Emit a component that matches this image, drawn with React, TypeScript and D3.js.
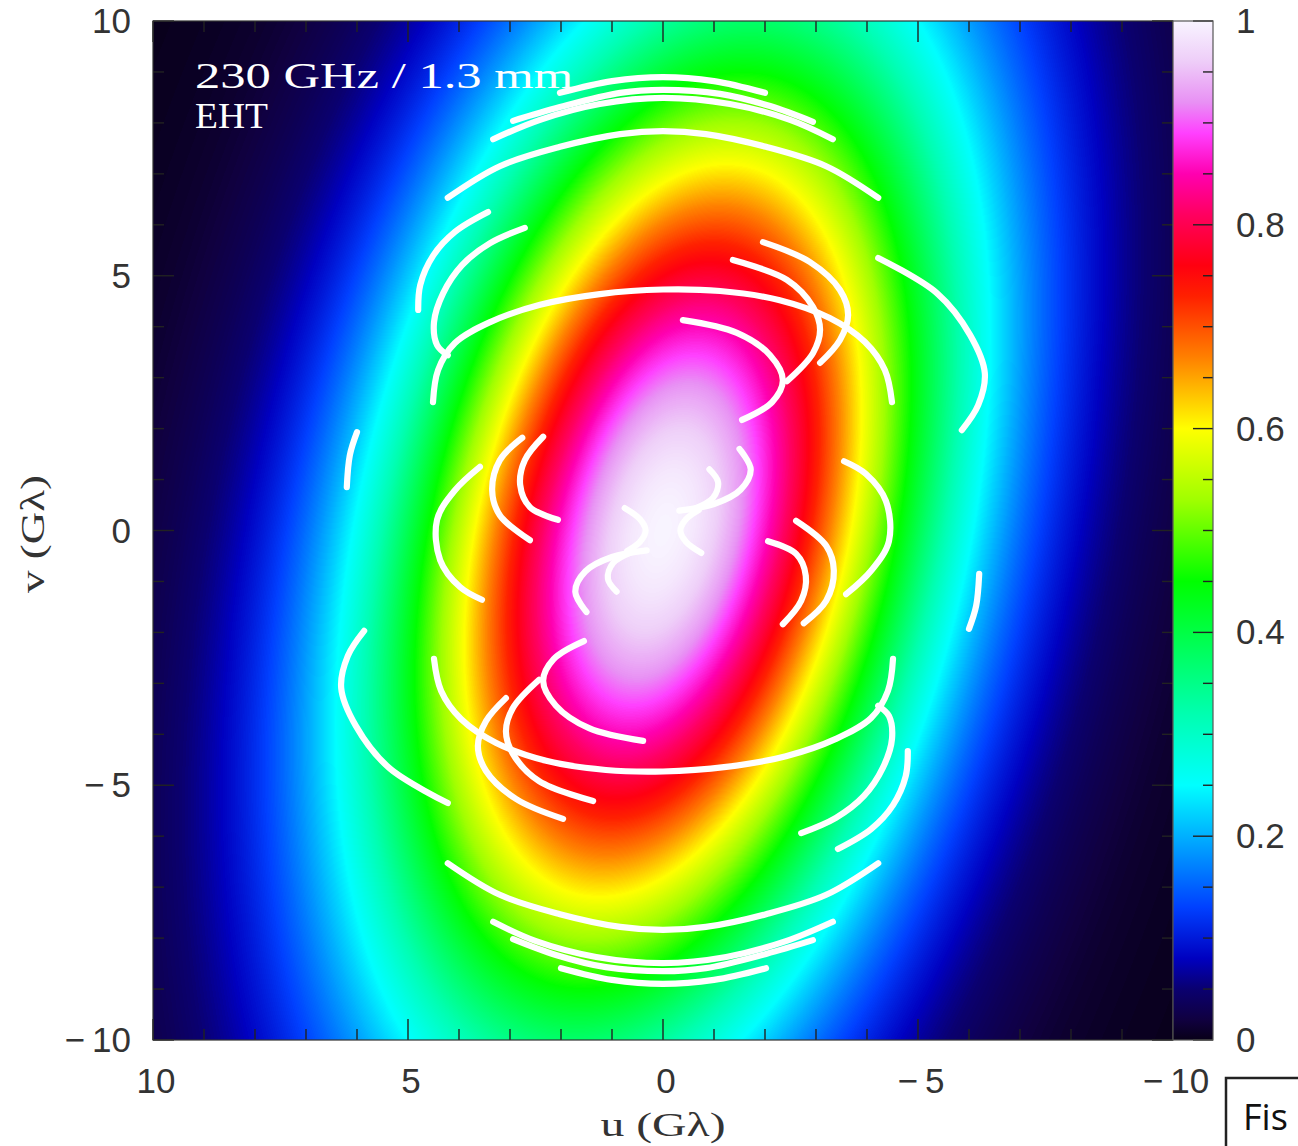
import React, { useMemo } from 'react';
import * as d3 from 'd3';

// page + frame geometry
const W = 1298, H = 1146;
const plot = { left: 153, right: 1173, top: 21, bottom: 1040 };
const bar = { left: 1173, right: 1213 };

// axis labels
const uLabels = [10, 5, 0, -5, -10];
const vLabels = [10, 5, 0, -5, -10];
const barLabels = [0, 0.2, 0.4, 0.6, 0.8, 1];

// colour table of the wedge (value -> colour)
const barValues = [0, 0.02, 0.05, 0.08, 0.13, 0.19, 0.25, 0.32, 0.38, 0.45, 0.53, 0.6, 0.67, 0.73, 0.76, 0.81, 0.85, 0.89, 0.92, 0.96, 1];
const barColors = ['#080018', '#100040', '#0a0070', '#0000c0', '#0040ff', '#00a0ff', '#00ffff', '#00ffb0', '#00ff60', '#00ff00', '#a0ff00', '#ffff00', '#ff8000', '#ff2000', '#ff0010', '#ff0060', '#ff00b0', '#ff40ff', '#e890f4', '#eecdf8', '#f8f4ff'];

// visibility amplitude model: exp(-(a u^2 + 2 b u v + c v^2) / 2)
const gaussUU = 0.075;
const gaussUV = 0.013;
const gaussVV = 0.022;

// uv tracks (u, v in G-lambda), each one is drawn with its conjugate (-u, -v)
const trackA1 = [[2.02, 8.59], [1.0, 8.82], [0, 8.9], [-1.0, 8.82], [-2.0, 8.59]];
const trackA2 = [[2.94, 8.04], [2.02, 8.31], [0.84, 8.59], [0, 8.65], [-1.12, 8.57], [-2.1, 8.33], [-2.94, 8.02]];
const trackA3 = [[3.33, 7.68], [2.41, 8.06], [1.24, 8.37], [0, 8.49], [-1.31, 8.37], [-2.49, 8.06], [-3.33, 7.68]];
const trackA4 = [[4.22, 6.53], [3.2, 7.15], [2.02, 7.53], [0.84, 7.78], [0, 7.84], [-0.84, 7.78], [-2.02, 7.53], [-3.2, 7.15], [-4.22, 6.53]];
const trackB1 = [[3.43, 6.25], [4.08, 5.86], [4.51, 5.39], [4.76, 4.82], [4.8, 4.33]];
const trackB2 = [[2.71, 5.94], [3.39, 5.64], [3.94, 5.21], [4.31, 4.66], [4.49, 4.09], [4.43, 3.64], [4.22, 3.44]];
const trackB3 = [[4.51, 2.52], [4.41, 3.15], [4.08, 3.68], [3.39, 4.09], [2.41, 4.43], [1.24, 4.64], [0, 4.73], [-1.12, 4.7], [-2.29, 4.52], [-3.27, 4.17], [-3.96, 3.7], [-4.35, 3.15], [-4.49, 2.52]];
const trackB4a = [[-0.39, 4.13], [-1.45, 3.88], [-2.1, 3.44], [-2.35, 2.95], [-2.14, 2.52], [-1.55, 2.17]];
const trackB4b = [[-1.37, 5.31], [-2.43, 4.92], [-2.94, 4.39], [-3.08, 3.94], [-2.94, 3.48], [-2.43, 2.93]];
const trackB4c = [[-1.96, 5.66], [-2.88, 5.27], [-3.47, 4.72], [-3.63, 4.23], [-3.47, 3.74], [-3.08, 3.29]];
const trackB5 = [[-4.22, 5.35], [-5.37, 4.66], [-6.02, 3.84], [-6.31, 3.09], [-6.18, 2.46], [-5.86, 1.97]];
const trackC1 = [[6.0, 1.93], [6.14, 1.48], [6.2, 0.85]];
const trackC2a = [[2.35, 1.84], [2.71, 1.38], [2.8, 0.89], [2.61, 0.46], [2.06, 0.21]];
const trackC2b = [[2.76, 1.82], [3.2, 1.38], [3.35, 0.79], [3.2, 0.3], [2.61, -0.19]];
const trackC2c = [[3.59, 1.25], [4.08, 0.79], [4.43, 0.21], [4.37, -0.58], [3.98, -1.11], [3.55, -1.36]];
const trackD1 = [[-0.32, 0.39], [-1.0, 0.52], [-1.52, 0.8], [-1.72, 1.2], [-1.5, 1.6]];
const trackD2 = [[-0.6, 0.42], [-0.98, 0.64], [-1.08, 0.95], [-0.91, 1.2]];
const trackE1 = [[0.75, 0.44], [0.45, 0.22], [0.34, 0.0], [0.45, -0.22], [0.7, -0.4]];

const tracks = [trackA1, trackA2, trackA3, trackA4, trackB1, trackB2, trackB3, trackB4a, trackB4b, trackB4c, trackB5, trackC1, trackC2a, trackC2b, trackC2c, trackD1, trackD2, trackE1];

const x = d3.scaleLinear().domain([10, -10]).range([plot.left, plot.right]);
const y = d3.scaleLinear().domain([-10, 10]).range([plot.bottom, plot.top]);
const yBar = d3.scaleLinear().domain([0, 1]).range([plot.bottom, plot.top]);
const color = d3.scaleLinear<string>().domain(barValues).range(barColors).interpolate(d3.interpolateRgb).clamp(true);

const fmt = (d: number) => (d < 0 ? '\u2212\u2009' + Math.abs(d) : String(d));

export default function App() {
  const heatmap = useMemo(() => {
    const w = plot.right - plot.left, h = plot.bottom - plot.top;
    const canvas = document.createElement('canvas');
    canvas.width = w;
    canvas.height = h;
    const ctx = canvas.getContext('2d')!;
    const img = ctx.createImageData(w, h);
    const lut = d3.range(512).map(i => d3.rgb(color(i / 511)));
    for (let py = 0; py < h; py++) {
      const v = y.invert(plot.top + py + 0.5);
      for (let px = 0; px < w; px++) {
        const u = x.invert(plot.left + px + 0.5);
        const q = gaussUU * u * u + 2 * gaussUV * u * v + gaussVV * v * v;
        const c = lut[Math.round(Math.exp(-q / 2) * 511)];
        const k = (py * w + px) * 4;
        img.data[k] = c.r;
        img.data[k + 1] = c.g;
        img.data[k + 2] = c.b;
        img.data[k + 3] = 255;
      }
    }
    ctx.putImageData(img, 0, 0);
    return canvas.toDataURL();
  }, []);

  const line = d3.line<number[]>()
    .x(d => x(d[0]))
    .y(d => y(d[1]))
    .curve(d3.curveCatmullRom.alpha(0.5));

  const tickCol = '#222';

  return (
    <div style={{ position: 'absolute', left: 0, top: 0 }}>
      <svg width={W} height={H} style={{ display: 'block', background: '#fff' }}>
        <defs>
          <linearGradient id="wedge" x1="0" y1="1" x2="0" y2="0">
            {barValues.map((v, i) => (
              <stop key={i} offset={v} stopColor={barColors[i]} />
            ))}
          </linearGradient>
        </defs>

        <image href={heatmap} x={plot.left} y={plot.top}
          width={plot.right - plot.left} height={plot.bottom - plot.top} preserveAspectRatio="none" />

        {tracks.map((t, i) => (
          <g key={i} fill="none" stroke="#fff" strokeWidth={6.2} strokeLinecap="round">
            <path d={line(t) || ''} />
            <path d={line(t.map(([u, v]) => [-u, -v])) || ''} />
          </g>
        ))}

        <text x={195} y={88} fill="#fff" fontFamily="'Liberation Serif', serif" fontSize={36}
          textLength={378} lengthAdjust="spacingAndGlyphs">230 GHz / 1.3 mm</text>
        <text x={195} y={128} fill="#fff" fontFamily="'Liberation Serif', serif" fontSize={36}
          textLength={73} lengthAdjust="spacingAndGlyphs">EHT</text>

        {/* frame ticks */}
        <g stroke={tickCol} strokeWidth={1.4}>
          {x.ticks(20).map(d => {
            const len = d % 5 === 0 ? 21 : 11;
            return (
              <g key={'u' + d}>
                <line x1={x(d)} x2={x(d)} y1={plot.bottom} y2={plot.bottom - len} />
                <line x1={x(d)} x2={x(d)} y1={plot.top} y2={plot.top + len} />
              </g>
            );
          })}
          {y.ticks(20).map(d => {
            const len = d % 5 === 0 ? 21 : 11;
            return (
              <g key={'v' + d}>
                <line x1={plot.left} x2={plot.left + len} y1={y(d)} y2={y(d)} />
                <line x1={plot.right} x2={plot.right - len} y1={y(d)} y2={y(d)} />
              </g>
            );
          })}
        </g>
        <rect x={plot.left} y={plot.top} width={plot.right - plot.left} height={plot.bottom - plot.top}
          fill="none" stroke="#333" strokeWidth={1.2} />

        {/* colour wedge */}
        <rect x={bar.left} y={plot.top} width={bar.right - bar.left} height={plot.bottom - plot.top} fill="url(#wedge)" />
        <g stroke={tickCol} strokeWidth={1.4}>
          {yBar.ticks(20).map(d => {
            const major = Math.abs(d * 5 - Math.round(d * 5)) < 1e-6;
            const len = major ? 20 : 10;
            return <line key={'b' + d} x1={bar.right} x2={bar.right - len} y1={yBar(d)} y2={yBar(d)} />;
          })}
        </g>
        <rect x={bar.left} y={plot.top} width={bar.right - bar.left} height={plot.bottom - plot.top}
          fill="none" stroke="#555" strokeWidth={1.2} />

        {/* tick labels */}
        <g fontFamily="'Liberation Sans', Arial, sans-serif" fontSize={35} fill="#333">
          {vLabels.map(d => (
            <text key={'vl' + d} x={131} y={y(d) + 12} textAnchor="end">{fmt(d)}</text>
          ))}
          {uLabels.map(d => (
            <text key={'ul' + d} x={x(d) + 3} y={1093} textAnchor="middle">{fmt(d)}</text>
          ))}
          {barLabels.map(d => (
            <text key={'bl' + d} x={1236} y={yBar(d) + 12} textAnchor="start">{String(d)}</text>
          ))}
        </g>

        {/* axis titles */}
        <text x={663} y={1136} textAnchor="middle" fontFamily="'Liberation Serif', serif" fontSize={34}
          fill="#333" textLength={125} lengthAdjust="spacingAndGlyphs">u (Gλ)</text>
        <text transform={`translate(44,${534}) rotate(-90)`} textAnchor="middle" fontFamily="'Liberation Serif', serif"
          fontSize={34} fill="#333" textLength={118} lengthAdjust="spacingAndGlyphs">v (Gλ)</text>

        {/* cut-off text box at the corner */}
        <rect x={1226} y={1078} width={120} height={90} fill="#fff" stroke="#222" strokeWidth={2.5} />
        <text x={1243} y={1130} fontFamily="'Open Sans', 'Liberation Sans', sans-serif" fontSize={36} fill="#111">Fis</text>
      </svg>
    </div>
  );
}
